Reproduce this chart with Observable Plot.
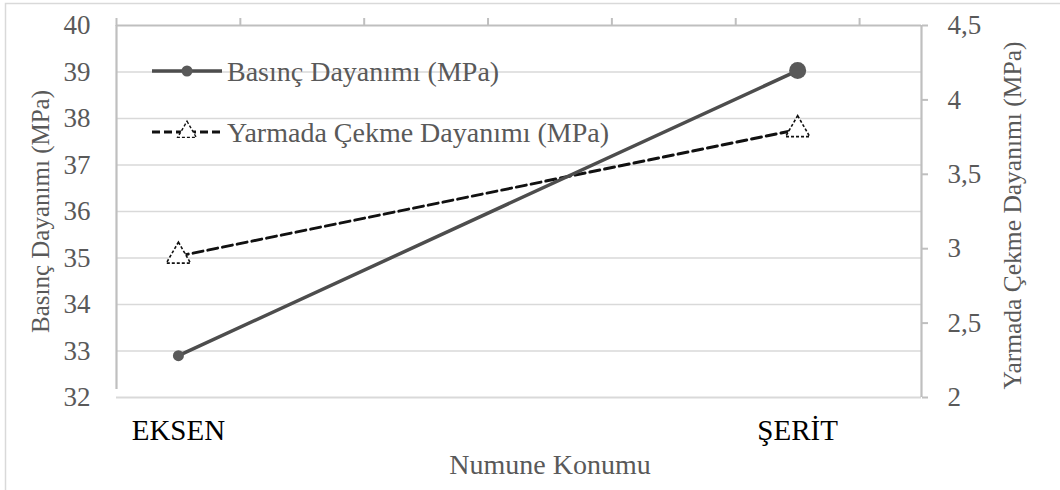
<!DOCTYPE html>
<html>
<head>
<meta charset="utf-8">
<script src="https://cdn.jsdelivr.net/npm/d3@7"></script>
<script src="https://cdn.jsdelivr.net/npm/@observablehq/plot@0.6"></script>
<style>
  html, body { margin: 0; padding: 0; background: #fff; }
  #chart { width: 1060px; height: 490px; overflow: hidden; }
  #chart svg, #chart svg text { font-family: "Liberation Serif", "Times New Roman", serif; }
</style>
</head>
<body>
<div id="chart"></div>
<script>
// Sample locations along the category axis (slot index on the axis, centre of slot)
const categories = ["EKSEN", "ŞERİT"];
const categorySlots = [0.5, 5.5];

// Compressive strength (left axis) and splitting tensile strength (right axis), MPa
const basinc = [32.9, 39.03];
const yarmada = [2.95, 3.8];

// Axis ticks
const leftTicks = [32, 33, 34, 35, 36, 37, 38, 39, 40];
const rightTicks = [2, 2.5, 3, 3.5, 4, 4.5];
const topTicks = [0, 1, 2, 3, 4, 5, 6];

const seriesNames = ["Basınç Dayanımı (MPa)", "Yarmada Çekme Dayanımı (MPa)"];
const xTitle = "Numune Konumu";

// Right axis [2, 4.5] is drawn onto the left axis range [32, 40]
const leftDomain = [32, 40];
const rightDomain = [2, 4.5];
const toLeft = v => leftDomain[0] + (v - rightDomain[0]) * (leftDomain[1] - leftDomain[0]) / (rightDomain[1] - rightDomain[0]);
const fromLeft = v => rightDomain[0] + (v - leftDomain[0]) * (rightDomain[1] - rightDomain[0]) / (leftDomain[1] - leftDomain[0]);
const commaFmt = v => String(Math.round(v * 10) / 10).replace(".", ",");

const rowsB = categories.map((c, i) => ({cat: c, slot: categorySlots[i], v: basinc[i]}));
const rowsY = categories.map((c, i) => ({cat: c, slot: categorySlots[i], v: toLeft(yarmada[i])}));

const FONT = "Liberation Serif";
const GRID = "#d9d9d9";
const AXIS = "#bfbfbf";
const TEXT = "#595959";

const chart = Plot.plot({
  width: 1060,
  height: 490,
  marginLeft: 116,
  marginRight: 139,
  marginTop: 25,
  marginBottom: 93,
  style: "font-family: 'Liberation Serif', serif; color: #595959; background: transparent;",
  x: {type: "linear", domain: [0, 6.5], axis: null},
  y: {domain: leftDomain, axis: null},
  r: {type: "identity"},
  marks: [
    // horizontal gridlines
    Plot.ruleY(leftTicks.slice(1, -1), {stroke: GRID, strokeWidth: 1.6}),
    Plot.ruleY([leftDomain[0]], {stroke: GRID, strokeWidth: 2.2}),
    Plot.ruleY([leftDomain[1]], {stroke: AXIS, strokeWidth: 2.2}),
    // vertical axis lines
    Plot.ruleX([0], {y1: leftDomain[0], y2: leftDomain[1], stroke: AXIS, strokeWidth: 2.2, insetTop: -8}),
    Plot.ruleX([6.5], {y1: leftDomain[0], y2: leftDomain[1], stroke: AXIS, strokeWidth: 2.2}),
    // secondary category axis ticks along the top
    Plot.axisX(topTicks, {anchor: "top", tickSize: 8, tickFormat: () => "", stroke: AXIS, strokeWidth: 2, label: null}),
    // left value axis
    Plot.axisY(leftTicks, {anchor: "left", tickSize: 0, tickPadding: 26, fontSize: 27, fontFamily: FONT, fill: TEXT, label: null}),
    // right value axis
    Plot.axisY(rightTicks.map(toLeft), {
      anchor: "right", tickSize: 6, tickPadding: 20, stroke: AXIS, strokeWidth: 2,
      tickFormat: d => commaFmt(fromLeft(d)), fontSize: 27, fontFamily: FONT, fill: TEXT, label: null
    }),
    // category labels
    Plot.axisX(categorySlots, {
      anchor: "bottom", tickSize: 0, tickPadding: 22, fontSize: 29, fontFamily: FONT, fill: "#000",
      tickFormat: (d, i) => categories[i], label: null
    }),
    // axis titles
    Plot.text([seriesNames[0]], {text: d => d, frameAnchor: "left", dx: -76, rotate: -90, textAnchor: "middle", fontSize: 25, fontFamily: FONT, fill: TEXT}),
    Plot.text([seriesNames[1]], {text: d => d, frameAnchor: "right", dx: 91, dy: 4, rotate: -90, textAnchor: "middle", fontSize: 25.5, fontFamily: FONT, fill: TEXT}),
    Plot.text([xTitle], {text: d => d, frameAnchor: "bottom", dx: 31, dy: 76, fontSize: 28, fontFamily: FONT, fill: TEXT}),
    // splitting tensile strength series
    Plot.line(rowsY, {x: "slot", y: "v", stroke: "#111", strokeWidth: 3, strokeDasharray: "10,5"}),
    Plot.dot(rowsY, {x: "slot", y: "v", symbol: "triangle", r: 9, fill: "#fff", stroke: "#111", strokeWidth: 1.6, strokeDasharray: "3,2"}),
    // compressive strength series
    Plot.line(rowsB, {x: "slot", y: "v", stroke: "#4d4d4d", strokeWidth: 3.5}),
    Plot.dot(rowsB, {x: "slot", y: "v", r: d => d.cat === "ŞERİT" ? 8.5 : 5.5, fill: "#595959", stroke: "none"})
  ]
});

// Chart-area border and in-plot legend
const svg = d3.select(chart);
svg.insert("rect", ":first-child")
  .attr("x", 5.5).attr("y", 3.5).attr("width", 1080).attr("height", 520)
  .attr("fill", "#fff").attr("stroke", GRID).attr("stroke-width", 1.5);

const legend = svg.append("g")
  .style("font-family", "'Liberation Serif', serif")
  .attr("text-anchor", "start");
const legendRows = [
  {name: seriesNames[0], y: 71, stroke: "#4d4d4d", dash: null, width: 3.5},
  {name: seriesNames[1], y: 132, stroke: "#111", dash: "8,4", width: 3}
];
legendRows.forEach((row, i) => {
  const g = legend.append("g").attr("transform", `translate(152,${row.y})`);
  g.append("line").attr("x1", 0).attr("x2", 70).attr("y1", 0).attr("y2", 0)
    .attr("stroke", row.stroke).attr("stroke-width", row.width)
    .attr("stroke-dasharray", row.dash);
  if (i === 0) {
    g.append("circle").attr("cx", 35).attr("cy", 0).attr("r", 5.5).attr("fill", "#595959");
  } else {
    g.append("path").attr("d", d3.symbol(d3.symbolTriangle, 150)())
      .attr("transform", "translate(35,0)")
      .attr("fill", "#fff").attr("stroke", "#111").attr("stroke-width", 1.4)
      .attr("stroke-dasharray", "3,2");
  }
  g.append("text").attr("x", 75).attr("y", 0).attr("dy", "0.35em")
    .attr("text-anchor", "start")
    .attr("font-size", 28).attr("fill", TEXT).text(row.name);
});

document.getElementById("chart").appendChild(chart);
</script>
</body>
</html>
